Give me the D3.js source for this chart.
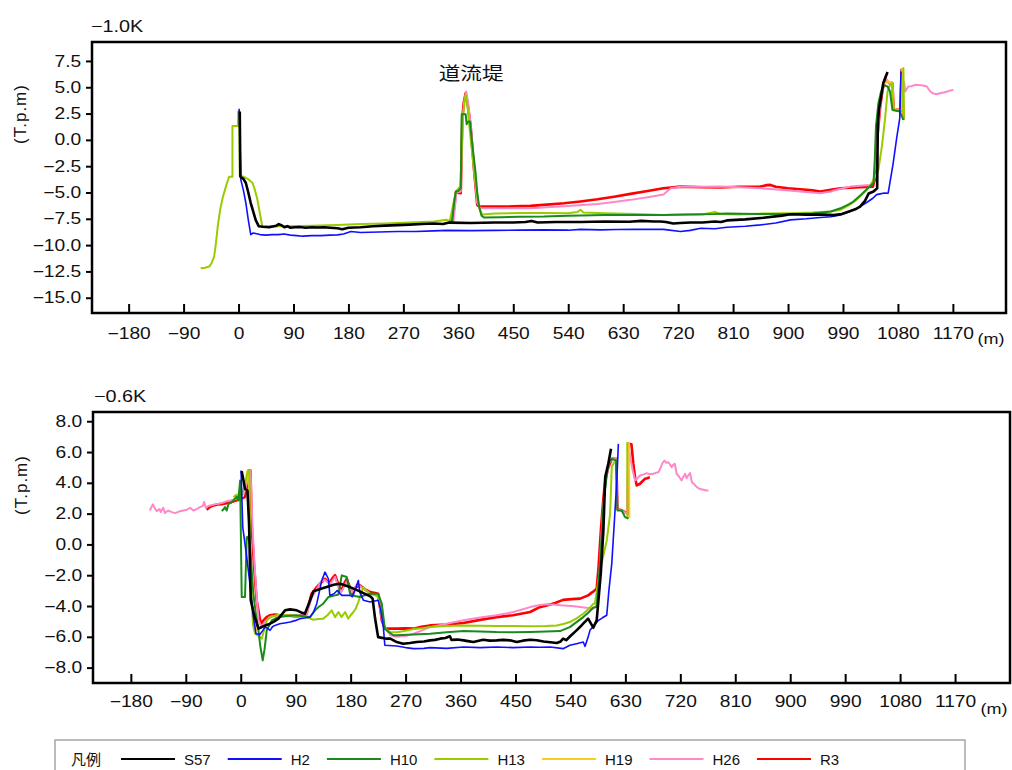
<!DOCTYPE html>
<html>
<head>
<meta charset="utf-8">
<script src="https://cdn.jsdelivr.net/npm/d3@7"></script>
<style>
  html, body { margin: 0; padding: 0; background: #fff; }
  svg { display: block; font-family: "Liberation Sans", Arial, sans-serif; }
</style>
</head>
<body>
<svg id="chart" width="1012" height="770"></svg>
<script>
// ---- Survey series (legend order) ----
const seriesNames = ["S57", "H2", "H10", "H13", "H19", "H26", "R3"];

// ---- Axis ticks ----
const xTickValues = [-180, -90, 0, 90, 180, 270, 360, 450, 540, 630, 720, 810, 900, 990, 1080, 1170];
const topYTicks = [7.5, 5.0, 2.5, 0.0, -2.5, -5.0, -7.5, -10.0, -12.5, -15.0];
const bottomYTicks = [8.0, 6.0, 4.0, 2.0, 0.0, -2.0, -4.0, -6.0, -8.0];

// ---- Texts ----
const topTitle = "\u22121.0K";
const bottomTitle = "\u22120.6K";
const yUnit = "(T.p.m)";
const xUnit = "(m)";
const legendTitle = "凡例";
const dikeLabel = "道流堤";
const dikeLabelAt = [381, 6.4];

// ---- Cross section -1.0K : [distance (m), elevation (T.p.m)] ----
const topS57 = [[2,2.7],[3,-3.5],[8,-3.7],[12,-4.1],[16,-5.0],[20,-6.0],[24,-6.8],[28,-7.6],[33,-8.2],[40,-8.25],[50,-8.3],[58,-8.2],[62,-8.15],[66,-8.0],[70,-8.1],[75,-8.3],[80,-8.2],[85,-8.35],[92,-8.3],[100,-8.28],[110,-8.35],[120,-8.3],[130,-8.32],[140,-8.3],[150,-8.35],[162,-8.4],[170,-8.5],[180,-8.35],[200,-8.3],[220,-8.2],[240,-8.15],[260,-8.1],[280,-8.05],[300,-8.0],[320,-7.95],[335,-8.0],[345,-7.86],[380,-7.9],[420,-7.85],[450,-7.85],[470,-7.8],[480,-7.7],[490,-7.85],[520,-7.8],[560,-7.8],[600,-7.75],[640,-7.78],[660,-7.7],[680,-7.75],[691,-7.76],[700,-7.8],[712,-7.95],[724,-7.9],[740,-7.85],[760,-7.85],[780,-7.75],[790,-7.8],[800,-7.65],[830,-7.55],[860,-7.4],[890,-7.2],[904,-7.06],[930,-7.1],[960,-7.1],[975,-7.15],[988,-7.05],[1000,-6.8],[1010,-6.6],[1018,-6.34],[1026,-5.8],[1032,-5.1],[1040,-4.9],[1046,-4.6],[1047,1.4],[1049,2.9],[1053,4.3],[1056,5.4],[1063,6.45]];
const topH2 = [[1,2.95],[2,1.0],[3.8,-3.8],[8,-4.8],[12,-6.0],[16,-7.6],[20,-9.0],[24,-8.85],[28,-8.9],[35,-9.0],[45,-9.05],[55,-9.0],[65,-9.0],[75,-8.95],[85,-9.05],[95,-9.1],[105,-9.15],[120,-9.1],[135,-9.1],[150,-9.05],[162,-9.03],[172,-8.95],[184,-8.7],[200,-8.8],[230,-8.75],[260,-8.7],[290,-8.7],[320,-8.65],[341,-8.6],[380,-8.62],[420,-8.6],[460,-8.58],[500,-8.55],[540,-8.58],[560,-8.5],[593,-8.55],[620,-8.52],[650,-8.5],[696,-8.5],[724,-8.7],[740,-8.6],[757,-8.4],[780,-8.45],[800,-8.3],[830,-8.2],[855,-8.08],[880,-7.9],[904,-7.6],[930,-7.5],[953,-7.38],[970,-7.3],[986,-7.13],[1000,-6.8],[1010,-6.6],[1018,-6.34],[1030,-5.9],[1039,-5.55],[1045,-5.2],[1051,-5.13],[1058,-5.05],[1064,-5.07],[1072,-2.3],[1078,0.2],[1083,2.06],[1085,6.5]];
const topH10 = [[345,-7.8],[350,-7.7],[353,-6.0],[356,-4.9],[360,-4.85],[364,-4.6],[365.5,2.44],[372,2.44],[373.6,1.49],[376,1.74],[379,1.74],[383,-0.5],[388,-3.0],[391,-5.0],[394,-6.34],[398,-7.2],[402,-7.38],[430,-7.35],[460,-7.3],[500,-7.28],[540,-7.2],[560,-7.18],[600,-7.15],[640,-7.15],[696,-7.13],[730,-7.1],[780,-7.05],[800,-7.0],[850,-7.05],[904,-7.06],[940,-7.0],[970,-6.8],[986,-6.5],[1000,-6.1],[1007,-5.86],[1020,-5.2],[1034,-4.44],[1040,-4.1],[1042,-2.0],[1044,1.27],[1048,3.49],[1052,4.5],[1056,5.2],[1063,5.07],[1067,4.6],[1071,2.85],[1083,2.69],[1089,1.9]];
const topH13 = [[-62,-12.2],[-55,-12.15],[-48,-12.04],[-44,-11.7],[-40,-11.1],[-37,-9.8],[-34,-8.2],[-30,-6.6],[-26,-5.5],[-20,-4.3],[-15.4,-3.5],[-10,-3.5],[-10,1.33],[-1,1.33],[-0.5,2.7],[1,2.7],[2,-3.4],[8,-3.5],[15,-3.7],[23,-4.1],[27,-4.8],[31,-5.7],[35,-7.0],[39,-8.24],[50,-8.2],[80,-8.2],[120,-8.15],[162,-8.08],[200,-8.0],[240,-7.95],[280,-7.85],[320,-7.75],[341,-7.6],[346,-7.7],[356,-4.9],[362,-4.5],[364,-4.4],[367,1.9],[370,3.5],[372,4.28],[375,3.3],[377,1.9],[384,-2.0],[391,-5.4],[395,-6.6],[399,-7.1],[420,-7.0],[460,-6.95],[500,-6.95],[540,-6.97],[555,-6.85],[560,-6.65],[565,-6.9],[600,-6.97],[650,-7.05],[696,-7.13],[720,-7.12],[760,-7.1],[780,-6.85],[790,-7.05],[820,-7.08],[860,-7.0],[904,-6.97],[940,-6.9],[970,-6.8],[986,-6.65],[1000,-6.2],[1010,-5.8],[1018,-5.39],[1026,-4.9],[1034,-4.4],[1042,-3.6],[1048,-2.85],[1054,-0.5],[1059,2.06],[1063,4.6],[1066,5.1],[1070,5.4],[1073,2.85],[1083,2.8],[1088,2.7],[1089,6.84],[1090,1.9]];
const topH19 = [[1058,5.3],[1064,5.6],[1068,5.4],[1071,5.45],[1073,2.9],[1083,2.8],[1086,2.8],[1087,6.7],[1089,2.0]];
const topH26 = [[352,-7.8],[357,-5.0],[364,-4.9],[367,2.0],[370,3.8],[373,4.6],[376,3.5],[381,1.0],[386,-2.9],[391,-6.0],[396,-6.5],[430,-6.5],[478,-6.5],[533,-6.3],[588,-6.1],[615,-5.9],[642,-5.7],[670,-5.45],[696,-5.2],[708,-4.6],[724,-4.45],[760,-4.45],[789,-4.44],[820,-4.5],[855,-4.6],[887,-4.75],[920,-4.9],[953,-5.07],[970,-4.9],[986,-4.65],[1002,-4.44],[1034,-4.28],[1040,-4.0],[1044,-1.5],[1048,1.5],[1052,3.8],[1059,6.0],[1063,5.6],[1066,5.4],[1070,5.5],[1072,2.9],[1083,2.8],[1087,2.8],[1090,5.5],[1092,4.6],[1097,5.07],[1102,5.1],[1108,5.23],[1118,5.2],[1127,5.1],[1133,4.6],[1138,4.4],[1144,4.34],[1150,4.45],[1155,4.5],[1161,4.6],[1166,4.7],[1171,4.75]];
const topR3 = [[350,-7.8],[356,-5.0],[364,-5.07],[366.5,2.06],[369,3.6],[372,4.44],[375,3.5],[380,1.43],[385.5,-2.7],[391,-6.2],[395,-6.34],[420,-6.34],[450,-6.32],[478,-6.27],[505,-6.15],[533,-6.02],[560,-5.85],[588,-5.64],[615,-5.4],[642,-5.13],[670,-4.85],[696,-4.6],[724,-4.44],[760,-4.5],[789,-4.53],[820,-4.45],[855,-4.44],[865,-4.3],[871,-4.28],[880,-4.45],[900,-4.6],[920,-4.69],[940,-4.8],[953,-4.9],[970,-4.75],[986,-4.6],[1018,-4.5],[1039,-4.44],[1042,-3.8],[1046,0],[1051,3.17],[1055,4.8],[1059,5.7],[1064,5.5],[1068,5.3],[1071,5.4],[1073,2.85],[1084,2.85],[1086,6.65],[1089,1.9]];

// ---- Cross section -0.6K ----
const bottomS57 = [[1.6,4.76],[7,3.61],[11,3.5],[13.6,1.34],[16.4,-3.63],[22,-4.6],[29,-5.47],[38,-5.3],[48,-5.15],[55,-5.0],[61.6,-4.82],[67,-4.55],[72.6,-4.28],[80.7,-4.22],[91.7,-4.28],[98,-4.4],[105,-4.5],[112,-3.8],[119,-3.05],[130,-2.9],[143.5,-2.73],[152,-2.62],[162.6,-2.55],[170,-2.65],[179,-2.77],[195,-3.05],[212,-3.37],[216,-3.52],[220,-4.8],[225,-6.02],[239,-6.12],[245,-6.12],[255.5,-6.34],[266,-6.45],[277,-6.4],[288,-6.34],[300,-6.3],[310,-6.23],[318,-6.2],[326.5,-6.12],[335,-6.08],[342.8,-5.97],[345,-6.2],[355,-6.18],[365,-6.23],[372,-6.28],[381,-6.34],[390,-6.25],[397,-6.19],[408,-6.25],[419,-6.23],[430,-6.2],[441,-6.23],[452,-6.34],[462,-6.25],[474,-6.19],[485,-6.22],[496,-6.3],[507,-6.35],[517.6,-6.4],[524,-6.3],[528,-6.12],[533,-6.22],[540,-5.95],[550,-5.58],[556,-5.35],[562,-5.1],[569,-4.82],[573,-5.1],[577.6,-5.4],[583,-4.93],[589.7,-1.9],[594,0.91],[597,4.37],[602,5.24],[606.5,6.21]];
const bottomH2 = [[0.5,4.8],[3.3,1.12],[9.8,-0.82],[14,-2.2],[18,-3.63],[21,-4.8],[25,-5.8],[31.6,-5.84],[36,-5.6],[39.8,-5.37],[44,-5.45],[48,-5.58],[52,-5.35],[56,-5.26],[64,-5.15],[72,-5.1],[81,-5.04],[89,-4.95],[97,-4.82],[105,-4.78],[113.5,-4.72],[119,-4.4],[124.5,-3.85],[128,-3.2],[132.7,-2.34],[138,-1.8],[143.5,-2.23],[146,-3.31],[152.8,-3.2],[158,-2.99],[165.4,-3.31],[172.5,-3.31],[179,-3.3],[183,-3.4],[188,-2.9],[192.6,-2.34],[195,-3.1],[201,-3.63],[212,-3.74],[225,-3.63],[229,-4.2],[233.6,-5.37],[236,-6.55],[255.5,-6.6],[270,-6.7],[283,-6.77],[300,-6.75],[310,-6.7],[337,-6.75],[365,-6.66],[392,-6.7],[419,-6.66],[446,-6.7],[474,-6.66],[490,-6.68],[507,-6.66],[528,-6.77],[539,-6.55],[550,-6.45],[561,-6.34],[564,-6.62],[569,-6.02],[572,-5.58],[580,-5.2],[586,-4.93],[593,-4.75],[599.5,-4.6],[603,-3.0],[607.7,-1.25],[612,1.5],[616,4.15],[618.5,6.53]];
const bottomH10 = [[-31,2.16],[-28,2.3],[-25.7,2.42],[-23,2.2],[-20,2.64],[-16,2.7],[-12,2.86],[-6.5,3.1],[-4,2.86],[-1,4.15],[1.6,-3.42],[7,-3.42],[9.8,0.47],[12,0.5],[15,0.04],[20.6,-3.2],[25,-4.6],[29,-5.58],[32,-6.6],[36,-7.53],[39,-6.8],[42.6,-5.58],[50.8,-4.93],[57,-4.8],[64,-4.72],[75,-4.65],[91.7,-4.6],[100,-4.65],[113.5,-4.72],[121.7,-4.28],[128,-4.05],[135,-3.85],[143.5,-3.42],[150,-3.35],[154.5,-3.31],[160,-3.25],[165.4,-2.01],[173.6,-2.12],[179,-3.2],[187,-3.35],[195,-3.42],[203,-3.3],[212,-3.2],[225,-3.2],[231,-3.85],[236,-5.47],[243,-5.7],[250,-5.9],[255.5,-5.9],[283,-5.85],[310,-5.8],[337,-5.7],[365,-5.63],[392,-5.65],[419,-5.69],[446,-5.7],[474,-5.69],[500,-5.66],[523,-5.63],[539,-5.37],[550,-5.05],[561,-4.72],[570,-4.4],[577.6,-4.1],[583,-4.07],[588.5,-1.25],[595,3.07],[602,5.24],[607.7,5.56],[615,5.45],[617,2.2],[624,2.2],[629.5,1.77],[635,1.67]];
const bottomH13 = [[-12,3.07],[-8,3.2],[-6.5,3.18],[-3,3.0],[-1,2.96],[5,3.6],[10,4.5],[12.4,4.8],[14,4.8],[15,0.7],[17,-3.0],[20,-5.2],[23.4,-5.8],[28,-5.9],[34.4,-6.12],[38,-5.6],[42.6,-4.93],[50,-4.7],[59,-4.6],[70,-4.58],[81,-4.6],[95,-4.65],[108,-4.72],[119,-4.89],[127,-4.85],[135,-4.82],[142,-4.6],[149,-4.28],[154.5,-4.72],[160,-4.39],[165,-4.72],[171,-4.39],[176,-4.82],[180,-4.6],[184.5,-4.39],[188,-4.2],[192.6,-3.74],[197,-3.2],[201,-2.77],[206,-3.0],[212,-3.2],[220,-3.3],[225,-3.42],[229,-4.2],[233.6,-5.15],[238,-5.5],[244.6,-5.69],[255.5,-5.7],[270,-5.6],[283,-5.5],[296,-5.45],[310,-5.37],[337,-5.3],[365,-5.26],[392,-5.28],[419,-5.3],[446,-5.3],[474,-5.32],[500,-5.3],[517.6,-5.26],[530,-5.15],[539,-5.04],[550,-4.8],[561,-4.5],[570,-4.2],[577.6,-3.85],[580,-3.85],[585,-2.6],[591,-1.25],[599.5,0.26],[605,1.99],[607.7,5.02],[611.6,5.34],[615,5.4],[616,5.3],null,[633,6.64],[633.5,1.67]];
const bottomH19 = [[-10,3.1],[-6,3.25],[-2,3.1],[2,3.3],[8,4.0],[11,4.8],[13,4.8],[14,1.5],[17,-2.5],[21,-5.0],[26,-5.6],null,[636,6.6],[636.5,1.7]];
const bottomH26 = [[-149,2.2],[-144,2.6],[-140,2.3],[-137.6,2.16],[-133,2.3],[-131,2.1],[-127,2.38],[-124,2.03],[-121,2.15],[-118.6,2.2],[-113,2.1],[-107.6,2.03],[-100,2.15],[-94,2.2],[-88,2.25],[-83,2.38],[-77.6,2.2],[-72,2.3],[-66.7,2.42],[-62,2.5],[-60,2.75],[-58,2.5],[-56.8,2.38],[-53,2.5],[-50,2.53],[-43,2.6],[-36.6,2.64],[-30,2.7],[-23,2.81],[-17,2.85],[-12,2.9],[-6,3.0],[-1,3.07],[5,3.3],[10,4.0],[14,4.8],[16,4.8],[18,2.5],[20.6,0.05],[25,-2.8],[29,-4.9],[34,-5.4],[40,-5.0],[48,-4.7],[56,-4.65],[64,-4.6],[75,-4.65],[91.7,-4.7],[108,-4.5],[116,-3.5],[124.5,-2.9],[132,-2.4],[138,-2.3],[146,-2.6],[154.5,-2.1],[160,-2.8],[165,-3.1],[173.6,-2.4],[182,-3.1],[190,-2.6],[195,-2.7],[205,-3.0],[212,-3.2],[225,-3.25],[231,-4.8],[236,-5.4],[245,-5.9],[255.5,-6.0],[270,-5.95],[283,-5.8],[296,-5.6],[310,-5.37],[337,-5.15],[364.6,-4.93],[392,-4.75],[419,-4.6],[446.5,-4.39],[474,-4.07],[488,-3.95],[501,-3.89],[515,-3.92],[528,-3.96],[542,-4.0],[556,-4.07],[566,-4.12],[577.6,-4.17],[583,-3.96],[588,-1.5],[593,2.0],[598,4.2],[603,5.3],[608,5.5],[613,5.6],[616,5.5],[617,2.3],[624,2.2],[633,2.0],[635,6.5],[638,5.67],[642,4.8],[646,4.15],[650,4.3],[654,4.48],[660,4.55],[665,4.63],[670,4.55],[676,4.59],[680,4.65],[684,4.69],[687,4.9],[690,5.24],[694,5.45],[697,5.3],[700,5.34],[703,5.2],[706,5.02],[708,5.15],[711,5.24],[714,4.59],[718,4.4],[722,4.15],[725,4.4],[728,4.59],[730,4.3],[733,4.48],[736,4.63],[739,4.04],[743,3.9],[747,3.72],[752,3.6],[758,3.55],[762,3.5],[766,3.5]];
const bottomR3 = [[-56,2.25],[-50,2.45],[-45,2.53],[-38,2.6],[-30,2.62],[-23,2.68],[-15,2.75],[-6.6,2.86],[0,2.95],[7,3.07],[9.8,3.72],[13,4.8],[16,4.8],[18,1.12],[22,-1.5],[26,-3.63],[32.8,-5.15],[38,-4.9],[43,-4.7],[48,-4.6],[56,-4.55],[64,-4.6],[75,-4.62],[85,-4.65],[91.7,-4.7],[100,-4.6],[108,-4.5],[112,-3.8],[116,-3.2],[124.5,-2.77],[131,-2.5],[138,-2.23],[142,-2.4],[146,-2.45],[150,-2.2],[154.5,-2.0],[160,-2.6],[165,-3.0],[170,-2.5],[173.6,-2.23],[178,-2.7],[182,-3.2],[188,-2.8],[195,-2.66],[203,-2.9],[212,-3.1],[220,-3.15],[225,-3.2],[231,-4.93],[236,-5.47],[255.5,-5.47],[270,-5.45],[283,-5.47],[296,-5.35],[310,-5.26],[337,-5.2],[364.6,-5.1],[392,-4.9],[419,-4.72],[446,-4.6],[474,-4.39],[488,-4.1],[501,-3.96],[515,-3.8],[528,-3.6],[542,-3.55],[556,-3.52],[569,-3.31],[576,-3.1],[583,-2.88],[586,-1.5],[590,1.0],[594,3.0],[597,4.15],[602,5.0],[608,5.56],[615,5.56],[617,2.3],[625,2.2],[634,2.0],[635,6.53],[640,6.5],[643,5.24],[646,4.3],[648.6,3.83],[654,3.94],[658,4.1],[662,4.26],[666,4.3],[670,4.37]];

// ---- Line styles per series ----
const seriesStyle = {
  S57: { color: "#000000", width: 2.6 },
  H2:  { color: "#1010ff", width: 1.6 },
  H10: { color: "#1a8a1a", width: 2.0 },
  H13: { color: "#99cc00", width: 2.0 },
  H19: { color: "#ffcc22", width: 2.0 },
  H26: { color: "#ff88c8", width: 2.0 },
  R3:  { color: "#ff0000", width: 2.6 }
};

const topData = { S57: topS57, H2: topH2, H10: topH10, H13: topH13, H19: topH19, H26: topH26, R3: topR3 };
const bottomData = { S57: bottomS57, H2: bottomH2, H10: bottomH10, H13: bottomH13, H19: bottomH19, H26: bottomH26, R3: bottomR3 };

const svg = d3.select("#chart");
const TEXT_STRETCH = 1.2;
const TICK_FONT = 16;

const panels = [
  { frame: { x0: 92, x1: 1006, y0: 42, y1: 313 }, xDomain: [-240, 1257], yDomain: [-16.45, 9.3],
    yTicks: topYTicks, title: topTitle, titleAt: [91, 32], unitAt: [26, 114], xPad: 15, mAt: [991, 344],
    data: topData, note: true },
  { frame: { x0: 93, x1: 1010, y0: 412, y1: 683 }, xDomain: [-242, 1260], yDomain: [-9.0, 8.6],
    yTicks: bottomYTicks, title: bottomTitle, titleAt: [94, 401.5], unitAt: [27, 485], xPad: 12.5, mAt: [994, 714],
    data: bottomData, note: false }
];

panels.forEach(p => {
  const f = p.frame;
  const x = d3.scaleLinear().domain(p.xDomain).range([f.x0, f.x1]);
  const y = d3.scaleLinear().domain(p.yDomain).range([f.y1, f.y0]);
  const g = svg.append("g");

  // series, drawn so that S57 ends up on top
  const line = d3.line().defined(d => d !== null).x(d => x(d[0])).y(d => y(d[1]));
  seriesNames.slice().reverse().forEach(name => {
    const st = seriesStyle[name];
    g.append("path")
      .datum(p.data[name])
      .attr("fill", "none")
      .attr("stroke", st.color)
      .attr("stroke-width", st.width)
      .attr("stroke-linejoin", "round")
      .attr("d", line);
  });

  // x axis: ticks point into the plot
  const gx = g.append("g")
    .attr("transform", `translate(0,${f.y1})`)
    .call(d3.axisBottom(x).tickValues(xTickValues).tickFormat(d3.format("d"))
      .tickSizeInner(-9).tickSizeOuter(0).tickPadding(p.xPad));
  gx.attr("font-family", null).attr("font-size", null);
  gx.select(".domain").remove();
  gx.selectAll(".tick line").attr("stroke", "#000").attr("stroke-width", 2);
  gx.selectAll(".tick text").attr("fill", "#111").attr("font-size", TICK_FONT)
    .attr("transform", `scale(${TEXT_STRETCH},1)`);

  // y axis: ticks outside
  const gy = g.append("g")
    .attr("transform", `translate(${f.x0},0)`)
    .call(d3.axisLeft(y).tickValues(p.yTicks).tickFormat(d3.format(".1f"))
      .tickSizeInner(6).tickSizeOuter(0).tickPadding(3));
  gy.attr("font-family", null).attr("font-size", null);
  gy.select(".domain").remove();
  gy.selectAll(".tick line").attr("stroke", "#000").attr("stroke-width", 2);
  gy.selectAll(".tick text").attr("fill", "#111").attr("font-size", TICK_FONT)
    .attr("transform", `scale(${TEXT_STRETCH},1)`);

  // plot frame
  g.append("rect")
    .attr("x", f.x0).attr("y", f.y0)
    .attr("width", f.x1 - f.x0).attr("height", f.y1 - f.y0)
    .attr("fill", "none").attr("stroke", "#000").attr("stroke-width", 2.5);

  // section title
  g.append("text")
    .attr("transform", `translate(${p.titleAt[0]},${p.titleAt[1]}) scale(${TEXT_STRETCH},1)`)
    .attr("font-size", 16.5).attr("fill", "#111").text(p.title);

  // vertical unit
  g.append("text")
    .attr("transform", `translate(${p.unitAt[0]},${p.unitAt[1]}) rotate(-90)`)
    .attr("text-anchor", "middle").attr("font-size", 17).attr("letter-spacing", 1)
    .attr("fill", "#111").text(yUnit);

  // horizontal unit
  g.append("text")
    .attr("transform", `translate(${p.mAt[0]},${p.mAt[1]}) scale(${TEXT_STRETCH},1)`)
    .attr("text-anchor", "middle").attr("font-size", 15).attr("fill", "#111").text(xUnit);

  if (p.note) {
    g.append("text")
      .attr("transform", `translate(${x(dikeLabelAt[0])},${y(dikeLabelAt[1]) + 7}) scale(${TEXT_STRETCH},1)`)
      .attr("text-anchor", "middle")
      .attr("font-family", "'Noto Sans CJK JP', sans-serif")
      .attr("font-size", 18).attr("fill", "#111").text(dikeLabel);
  }
});

// ---- Legend ----
const lg = svg.append("g");
lg.append("rect")
  .attr("x", 55).attr("y", 740).attr("width", 910).attr("height", 50)
  .attr("fill", "#fff").attr("stroke", "#999").attr("stroke-width", 1.3);
lg.append("text")
  .attr("x", 71).attr("y", 765)
  .attr("font-family", "'Noto Sans CJK JP', sans-serif")
  .attr("font-size", 15).attr("fill", "#111").text(legendTitle);

let cursor = 121;
seriesNames.forEach(name => {
  const st = seriesStyle[name];
  lg.append("line")
    .attr("x1", cursor).attr("x2", cursor + 54)
    .attr("y1", 759).attr("y2", 759)
    .attr("stroke", st.color).attr("stroke-width", 2.2);
  const t = lg.append("text")
    .attr("x", cursor + 63).attr("y", 765)
    .attr("font-size", 15).attr("fill", "#111").text(name);
  cursor = cursor + 63 + t.node().getComputedTextLength() + 17;
});
</script>
</body>
</html>
